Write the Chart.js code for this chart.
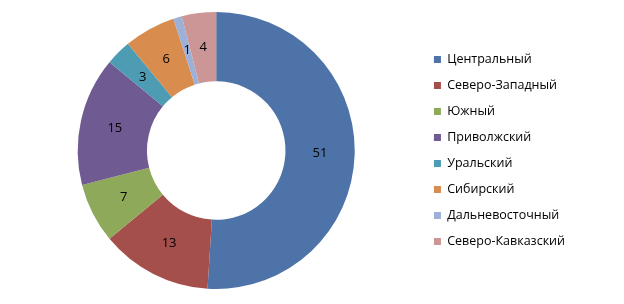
<!DOCTYPE html>
<html>
<head>
<meta charset="utf-8">
<script src="https://cdn.jsdelivr.net/npm/chart.js@4/dist/chart.umd.min.js"></script>
<style>
   html,body{margin:0;padding:0;background:#fff;}
   #wrap{width:624px;height:304px;}
</style>
</head>
<body>
<div id="wrap"><canvas id="okrug"></canvas></div>
<script>

let regions = [
   "Центральный",
   "Северо-Западный",
   "Южный",
   "Приволжский",
   "Уральский",
   "Сибирский",
   "Дальневосточный",
   "Северо-Кавказский"
];

let shares = [51,13,7,15,3,6,1,4];

let colors = [
   "#4E73A8",
   "#A54F4C",
   "#8FA95B",
   "#6F5A91",
   "#4D9CB3",
   "#D88C4E",
   "#9DB1D8",
   "#CB9695"
];

let fontName = "'Open Sans', 'Noto Sans', sans-serif";

/* angka di tengah tiap potongan */
let sliceLabels = {

   id:"sliceLabels",

   afterDatasetsDraw:function(chart){

      let ctx = chart.ctx;
      let meta = chart.getDatasetMeta(0);

      ctx.save();
      ctx.fillStyle = "#000";
      ctx.font = "13px " + fontName;
      ctx.textAlign = "center";
      ctx.textBaseline = "middle";

      meta.data.forEach(function(arc,i){

         let pos = arc.tooltipPosition();

         ctx.fillText(shares[i], pos.x, pos.y);

      });

      ctx.restore();

   }

};

let ctx =
   document.getElementById("okrug").getContext("2d");

new Chart(ctx, {

   type:"doughnut",

   data:{

      labels:regions,

      datasets:[{

         data:shares,
         backgroundColor:colors,
         borderWidth:0

      }]

   },

   options:{

      responsive:true,
      maintainAspectRatio:false,
      animation:false,
      cutout:"50%",

      layout:{
         padding:{left:12,right:49,top:12,bottom:15}
      },

      plugins:{

         legend:{

            position:"right",

            labels:{
               boxWidth:7,
               boxHeight:7,
               padding:13.5,
               color:"#000",
               font:{family:fontName,size:12.5}
            }

         },

         tooltip:{enabled:false}

      }

   },

   plugins:[sliceLabels]

});

</script>
</body>
</html>
